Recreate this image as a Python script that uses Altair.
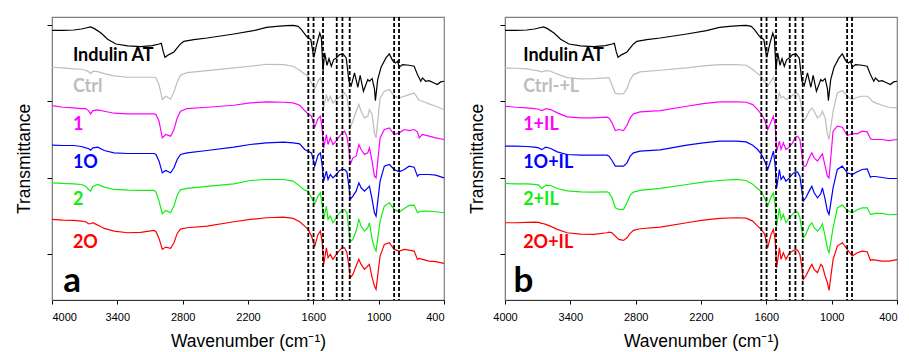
import altair as alt
import pandas as pd

# ---------------- data ----------------
X_TICKS = [4000, 3400, 2800, 2200, 1600, 1000, 400]
Y_TICKS = [14, 37, 60, 83]
DASHED_WN = [1646, 1598, 1511, 1385, 1333, 1266, 858, 813]

# Indulin AT spectrum (same in both panels)
WN_INDULIN = [4000, 3900, 3800, 3730, 3690, 3645, 3610, 3550, 3489, 3413,
              3305, 3185, 3078, 3017, 2996, 2978, 2962, 2926, 2880, 2850,
              2820, 2789, 2698, 2575, 2330, 2150, 2030, 1937, 1846, 1785,
              1739, 1709, 1663, 1623, 1596, 1566, 1541, 1526, 1511, 1496,
              1474, 1456, 1435, 1413, 1389, 1359, 1328, 1298, 1273, 1252,
              1222, 1191, 1170, 1140, 1100, 1085, 1060, 1039, 1030, 1009,
              978, 933, 902, 872, 847, 826, 811, 781, 720, 674,
              644, 613, 598, 568, 537, 491, 461, 431, 400]
T_INDULIN = [81.3, 81.3, 81.4, 81.7, 82.0, 82.3, 81.8, 80.5, 78.6, 77.2,
             76.6, 76.4, 76.7, 77.2, 77.4, 74.8, 73.2, 74.0, 74.8, 76.0,
             77.2, 78.0, 78.5, 79.0, 80.2, 81.2, 82.2, 82.5, 82.7, 82.8,
             82.5, 81.5, 79.5, 78.5, 73.2, 77.5, 80.5, 79.0, 69.2, 74.5,
             70.8, 72.8, 70.5, 72.5, 73.0, 74.0, 74.2, 73.0, 66.0, 64.7,
             68.5, 64.2, 67.8, 63.0, 66.5, 66.0, 66.8, 63.8, 60.2, 66.5,
             70.2, 73.0, 74.2, 72.2, 71.5, 72.0, 70.2, 71.0, 70.8, 70.5,
             68.0, 66.0, 67.0, 66.0, 66.2, 65.5, 65.0, 65.8, 66.0]

# common wavenumber grid of the other spectra
WN = [4000, 3900, 3800, 3730, 3690, 3665, 3645, 3625, 3580, 3520,
      3430, 3305, 3185, 3063, 3045, 3017, 2987, 2956, 2911, 2880,
      2850, 2820, 2760, 2575, 2330, 2180, 2030, 1875, 1785, 1725,
      1680, 1648, 1617, 1587, 1557, 1535, 1520, 1505, 1480, 1465,
      1444, 1420, 1389, 1359, 1334, 1313, 1292, 1273, 1261, 1237,
      1207, 1182, 1161, 1130, 1100, 1085, 1060, 1039, 1024, 987,
      948, 902, 857, 811, 765, 720, 674, 644, 628, 598,
      537, 476, 400]

# panel a
T_CTRL = [70.2, 70.0, 69.7, 69.6, 69.3, 68.9, 68.3, 69.0, 68.9, 68.3,
          67.6, 67.2, 67.2, 67.2, 67.0, 65.0, 60.5, 61.5, 60.7, 62.8,
          65.8, 67.8, 68.6, 69.2, 70.0, 70.5, 71.1, 71.0, 70.5, 69.3,
          68.2, 67.5, 65.5, 63.7, 66.0, 67.0, 65.5, 58.0, 62.0, 60.0,
          61.5, 59.5, 60.5, 61.2, 62.0, 62.5, 61.5, 57.0, 52.0, 54.0,
          57.0, 59.0, 57.0, 55.0, 55.5, 57.5, 56.0, 50.5, 49.0, 61.0,
          63.0, 63.5, 61.5, 61.0, 61.5, 62.0, 62.5, 61.0, 60.3, 60.0,
          59.2, 58.5, 57.5]
T_1 = [58.7, 58.2, 58.0, 57.8, 57.8, 57.2, 56.2, 57.2, 57.4, 57.0,
       56.4, 56.2, 56.2, 56.2, 56.0, 54.0, 49.0, 50.0, 49.5, 51.5,
       55.0, 57.0, 57.8, 58.2, 58.8, 59.5, 59.8, 59.7, 59.5, 58.8,
       57.2, 56.2, 55.5, 52.2, 54.8, 55.5, 52.0, 46.0, 50.0, 47.0,
       49.0, 47.0, 48.2, 49.5, 50.5, 51.0, 49.5, 45.5, 41.0, 43.0,
       43.5, 47.0, 45.5, 44.0, 44.5, 46.0, 42.0, 37.5, 37.0, 49.0,
       51.5, 52.0, 50.0, 50.5, 51.5, 51.2, 51.5, 50.8, 49.0, 50.0,
       49.5, 49.0, 48.5]
T_1O = [46.8, 46.7, 46.7, 46.4, 46.0, 45.8, 45.3, 46.0, 46.2, 45.2,
        44.5, 44.3, 44.3, 44.3, 44.0, 42.0, 38.5, 39.2, 38.5, 40.0,
        42.5, 44.0, 44.5, 45.2, 46.2, 47.0, 47.5, 47.7, 47.5, 47.2,
        45.5, 45.0, 44.5, 40.5, 43.8, 44.5, 41.0, 36.0, 39.0, 36.5,
        38.0, 37.0, 38.0, 39.2, 39.5, 39.5, 38.8, 34.5, 30.5, 31.5,
        33.0, 35.5, 34.0, 33.0, 34.0, 34.5, 30.5, 26.5, 25.5, 36.0,
        40.5, 41.0, 39.5, 38.8, 39.5, 40.5, 40.2, 37.5, 38.0, 38.0,
        38.0, 37.8, 37.0]
T_2 = [35.5, 35.3, 35.2, 35.0, 34.5, 33.5, 33.0, 34.4, 35.0, 34.2,
       33.5, 33.3, 33.2, 33.2, 32.7, 30.0, 26.2, 27.2, 26.5, 28.5,
       31.8, 33.4, 33.8, 34.4, 35.2, 36.2, 36.5, 36.5, 36.0, 34.5,
       33.3, 33.0, 31.0, 29.2, 31.5, 32.5, 29.0, 24.5, 28.5, 24.5,
       25.5, 23.5, 25.0, 26.5, 27.2, 27.5, 26.5, 21.0, 17.8, 18.5,
       21.0, 24.5, 22.5, 21.0, 22.0, 23.5, 18.5, 16.0, 15.0, 24.0,
       28.5, 29.5, 27.5, 26.7, 27.8, 28.7, 28.8, 26.5, 26.8, 27.0,
       27.0, 26.8, 26.5]
T_2O = [24.5, 24.3, 24.2, 24.0, 23.8, 23.2, 23.2, 23.5, 22.8, 21.8,
        21.0, 20.5, 20.6, 21.2, 20.8, 18.8, 15.5, 16.2, 15.8, 17.5,
        20.3, 21.6, 22.0, 22.5, 23.8, 24.5, 25.0, 25.2, 24.8, 23.8,
        22.5, 21.5, 19.5, 16.5, 20.0, 21.0, 18.0, 11.0, 16.0, 13.0,
        14.0, 12.5, 14.0, 15.2, 16.0, 16.0, 14.5, 10.5, 7.0, 8.0,
        10.5, 12.5, 11.0, 9.5, 10.5, 11.0, 7.0, 4.5, 3.5, 13.5,
        17.0, 17.5, 15.5, 15.0, 15.5, 15.3, 15.0, 12.5, 12.8, 12.5,
        12.0, 11.8, 11.3]

# panel b
T_CTRL_IL = [70.0, 69.9, 69.7, 69.3, 69.1, 68.8, 69.0, 69.2, 69.0, 68.2,
             67.1, 66.7, 66.8, 67.0, 67.0, 64.8, 62.4, 62.2, 62.3, 63.8,
             66.5, 68.0, 68.8, 69.3, 70.0, 70.6, 71.0, 71.0, 70.8, 69.5,
             68.3, 67.5, 66.0, 64.5, 66.0, 67.2, 65.5, 59.0, 62.5, 61.0,
             61.5, 60.5, 61.0, 61.8, 62.4, 62.3, 61.0, 57.0, 54.0, 55.0,
             57.0, 58.0, 57.0, 55.0, 55.8, 57.0, 55.0, 50.2, 48.5, 57.0,
             62.5, 63.2, 61.5, 60.5, 61.2, 61.5, 61.5, 60.7, 60.0, 59.5,
             58.8, 58.2, 58.0]
T_1_IL = [58.5, 58.2, 58.0, 57.8, 57.6, 57.2, 57.4, 57.8, 57.5, 56.5,
          55.3, 55.0, 55.0, 55.2, 55.0, 53.5, 51.2, 51.5, 51.2, 52.8,
          55.0, 56.2, 56.8, 57.2, 58.5, 59.3, 59.8, 59.8, 59.7, 59.0,
          57.5, 56.2, 54.5, 51.5, 53.8, 55.5, 53.0, 45.0, 48.0, 45.5,
          47.5, 45.5, 46.2, 47.5, 49.2, 49.5, 48.5, 44.0, 40.5, 40.5,
          43.0, 44.5, 43.0, 42.0, 43.5, 44.2, 40.5, 37.5, 37.0, 51.0,
          52.5, 52.2, 49.7, 50.3, 50.2, 51.0, 50.8, 48.8, 48.5, 48.5,
          48.5, 48.2, 48.5]
T_1O_IL = [46.5, 46.5, 46.4, 46.2, 46.0, 45.5, 45.8, 46.2, 45.8, 44.8,
           44.0, 43.8, 43.8, 43.8, 43.5, 42.2, 40.5, 40.5, 40.5, 41.5,
           43.5, 44.5, 45.0, 45.4, 46.8, 47.5, 48.0, 48.0, 47.8, 46.8,
           45.5, 44.2, 42.2, 39.5, 42.5, 45.0, 41.0, 34.0, 39.5, 36.5,
           37.5, 36.0, 37.0, 38.2, 38.8, 38.7, 37.5, 33.0, 30.0, 31.0,
           33.0, 34.5, 32.5, 31.0, 32.2, 34.0, 30.5, 27.0, 26.0, 34.0,
           39.5, 40.5, 38.5, 38.0, 38.8, 39.5, 39.7, 37.2, 37.4, 37.4,
           37.1, 36.8, 36.8]
T_2_IL = [35.3, 35.2, 35.2, 35.0, 34.8, 33.8, 34.2, 34.8, 34.7, 33.8,
          33.1, 32.8, 32.7, 32.8, 32.5, 31.0, 28.0, 27.5, 27.5, 29.5,
          31.8, 32.7, 33.2, 33.8, 35.0, 35.7, 36.2, 36.5, 36.2, 35.1,
          33.7, 33.0, 31.0, 28.5, 31.2, 32.5, 29.0, 22.5, 28.0, 24.5,
          26.0, 23.5, 25.0, 26.0, 26.8, 26.7, 25.0, 21.0, 19.0, 20.0,
          22.5, 23.5, 22.0, 21.0, 22.2, 23.2, 19.5, 15.8, 14.5, 22.0,
          28.0, 28.8, 27.2, 26.5, 27.4, 28.0, 28.0, 26.0, 26.1, 26.3,
          26.3, 25.9, 26.0]
T_2O_IL = [23.5, 23.5, 23.6, 23.7, 23.6, 23.3, 23.2, 23.0, 22.4, 21.5,
           20.5, 20.1, 20.0, 20.5, 20.7, 20.5, 19.5, 18.5, 18.2, 19.0,
           20.3, 21.2, 21.7, 22.2, 23.5, 24.3, 24.8, 25.0, 24.9, 24.0,
           22.5, 21.5, 20.2, 16.0, 20.0, 21.5, 18.5, 10.0, 16.0, 12.5,
           14.5, 12.5, 14.4, 15.0, 15.4, 15.3, 14.0, 10.0, 6.5, 7.5,
           9.5, 11.0, 9.5, 8.5, 11.0, 10.5, 7.5, 5.5, 3.2, 12.5,
           16.5, 17.5, 15.5, 13.5, 14.5, 15.0, 14.8, 12.2, 12.4, 12.3,
           12.0, 12.0, 12.4]

NAMES_A = ["Indulin AT", "Ctrl", "1", "1O", "2", "2O"]
NAMES_B = ["Indulin AT", "Ctrl-+L", "1+IL", "1O+IL", "2+IL", "2O+IL"]
COLORS = ["#000000", "#bdbdbd", "#ff00ff", "#0000ff", "#11ee11", "#ff0000"]
LABEL_T = [72.2, 62.8, 51.4, 40.0, 28.8, 16.0]
LABEL_WN_A = 3808
LABEL_WN_B = 3833
LETTER_T = 2.7

# ---------------- chart ----------------
FONT = "Liberation Sans"
W, H = 392, 283


def spectra_frame(names, series_values):
    rows = [dict(series=names[0], color=COLORS[0], wn=w, T=t)
            for w, t in zip(WN_INDULIN, T_INDULIN)]
    for name, vals, col in zip(names[1:], series_values, COLORS[1:]):
        rows += [dict(series=name, color=col, wn=w, T=t) for w, t in zip(WN, vals)]
    return pd.DataFrame(rows)


def panel(names, series_values, label_wn, letter, letter_wn, last_label_right):
    xaxis_kw = dict(values=X_TICKS, format="d", grid=False,
                    title="Wavenumber (cm\u207b\u00b9)", titleFont=FONT,
                    titleFontSize=17.5, titleFontWeight="normal", titleColor="black",
                    titleX=W / 2, titleY=46.5, titleBaseline="alphabetic",
                    labelFont=FONT, labelFontSize=11, labelColor="black",
                    labelPadding=7, tickSize=4, tickColor="black",
                    domainColor="#333333")
    if last_label_right:
        xaxis_kw["labelAlign"] = alt.ExprRef(expr="datum.value == 400 ? 'right' : 'center'")
    xaxis = alt.Axis(**xaxis_kw)
    yaxis = alt.Axis(values=Y_TICKS, labels=False, grid=False,
                     title="Transmittance", titleFont=FONT, titleFontSize=17.5,
                     titleFontWeight="normal", titleColor="black",
                     titleAngle=270, titleX=-22.4, titleY=H / 2,
                     titleAlign="center", titleBaseline="alphabetic",
                     tickSize=5, tickColor="black", domainColor="#7f7f7f")
    x = alt.X("wn:Q", scale=alt.Scale(domain=[4000, 400], nice=False, zero=False), axis=xaxis)
    y = alt.Y("T:Q", scale=alt.Scale(domain=[0.3, 85.3], nice=False, zero=False), axis=yaxis)

    df = spectra_frame(names, series_values)
    lines = alt.Chart(df).mark_line(strokeWidth=1.2).encode(
        x=x, y=y, detail="series:N", color=alt.Color("color:N", scale=None))

    rules = alt.Chart(pd.DataFrame({"wn": DASHED_WN})).mark_rule(
        color="black", strokeDash=[4, 2], strokeWidth=1.8).encode(x=x)

    labels = pd.DataFrame({"series": names, "color": COLORS,
                           "wn": [label_wn] * len(names), "T": LABEL_T})
    text = alt.Chart(labels).mark_text(
        align="left", baseline="alphabetic", font="Lato", fontSize=18,
        fontWeight="bold").encode(x=x, y=y, text="series:N",
                                  color=alt.Color("color:N", scale=None))

    let = alt.Chart(pd.DataFrame({"wn": [letter_wn], "T": [LETTER_T], "t": [letter]})).mark_text(
        align="left", baseline="alphabetic", font="Lato", fontSize=35,
        fontWeight="bold", color="black").encode(x=x, y=y, text="t:N")

    return alt.layer(lines, rules, text, let).properties(width=W, height=H)


pa = panel(NAMES_A, [T_CTRL, T_1, T_1O, T_2, T_2O], LABEL_WN_A, "a", 3897, False)
pb = panel(NAMES_B, [T_CTRL_IL, T_1_IL, T_1O_IL, T_2_IL, T_2O_IL], LABEL_WN_B, "b", 3923, True)

chart = alt.hconcat(pa, pb, spacing=20).properties(
    padding={"left": 6, "top": 7, "right": 0, "bottom": 0}
).configure_view(stroke="#7f7f7f", strokeWidth=1.2)

chart.save("out.html", embed_options={"renderer": "svg", "actions": False})
